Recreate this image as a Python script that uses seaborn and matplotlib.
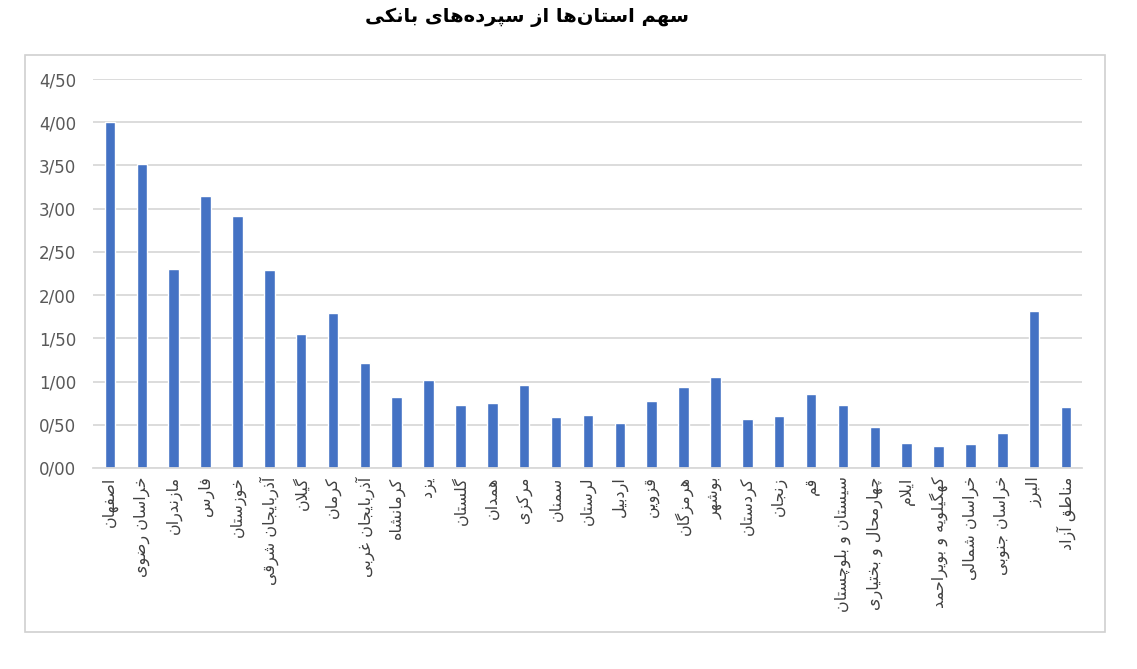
import seaborn as sns
import matplotlib.pyplot as plt
import pandas as pd
from matplotlib.patches import Rectangle


# 1. DATA
title = 'سهم استان‌ها از سپرده‌های بانکی'

provinces = [
    'اصفهان', 'خراسان رضوی', 'مازندران', 'فارس', 'خوزستان', 'آذربایجان شرقی',
    'گیلان', 'کرمان', 'آذربایجان غربی', 'کرمانشاه', 'یزد', 'گلستان', 'همدان',
    'مرکزی', 'سمنان', 'لرستان', 'اردبیل', 'قزوین', 'هرمزگان', 'بوشهر',
    'کردستان', 'زنجان', 'قم', 'سیستان و بلوچستان', 'چهارمحال و بختیاری',
    'ایلام', 'کهگیلویه و بویراحمد', 'خراسان شمالی', 'خراسان جنوبی', 'البرز',
    'مناطق آزاد',
]

share = [
    4.00, 3.52, 2.30, 3.15, 2.91, 2.29,
    1.55, 1.79, 1.22, 0.82, 1.02, 0.73, 0.75,
    0.96, 0.59, 0.61, 0.52, 0.77, 0.94, 1.05,
    0.57, 0.60, 0.86, 0.73, 0.48,
    0.29, 0.25, 0.28, 0.41, 1.82,
    0.71,
]

y_ticks = [0, 0.5, 1, 1.5, 2, 2.5, 3, 3.5, 4, 4.5]
y_tick_labels = ['0/00', '0/50', '1/00', '1/50', '2/00', '2/50', '3/00', '3/50', '4/00', '4/50']


# 2. PERSIAN SHAPING (matplotlib has no arabic shaping, so do it by hand)
# (isolated, final) for right-joining letters, (isolated, final, initial, medial) for dual-joining
FORMS = {
    'ا': ('\uFE8D', '\uFE8E'), 'آ': ('\uFE81', '\uFE82'),
    'ب': ('\uFE8F', '\uFE90', '\uFE91', '\uFE92'),
    'پ': ('\uFB56', '\uFB57', '\uFB58', '\uFB59'),
    'ت': ('\uFE95', '\uFE96', '\uFE97', '\uFE98'),
    'ث': ('\uFE99', '\uFE9A', '\uFE9B', '\uFE9C'),
    'ج': ('\uFE9D', '\uFE9E', '\uFE9F', '\uFEA0'),
    'چ': ('\uFB7A', '\uFB7B', '\uFB7C', '\uFB7D'),
    'ح': ('\uFEA1', '\uFEA2', '\uFEA3', '\uFEA4'),
    'خ': ('\uFEA5', '\uFEA6', '\uFEA7', '\uFEA8'),
    'د': ('\uFEA9', '\uFEAA'), 'ذ': ('\uFEAB', '\uFEAC'),
    'ر': ('\uFEAD', '\uFEAE'), 'ز': ('\uFEAF', '\uFEB0'),
    'ژ': ('\uFB8A', '\uFB8B'),
    'س': ('\uFEB1', '\uFEB2', '\uFEB3', '\uFEB4'),
    'ش': ('\uFEB5', '\uFEB6', '\uFEB7', '\uFEB8'),
    'ص': ('\uFEB9', '\uFEBA', '\uFEBB', '\uFEBC'),
    'ض': ('\uFEBD', '\uFEBE', '\uFEBF', '\uFEC0'),
    'ط': ('\uFEC1', '\uFEC2', '\uFEC3', '\uFEC4'),
    'ظ': ('\uFEC5', '\uFEC6', '\uFEC7', '\uFEC8'),
    'ع': ('\uFEC9', '\uFECA', '\uFECB', '\uFECC'),
    'غ': ('\uFECD', '\uFECE', '\uFECF', '\uFED0'),
    'ف': ('\uFED1', '\uFED2', '\uFED3', '\uFED4'),
    'ق': ('\uFED5', '\uFED6', '\uFED7', '\uFED8'),
    'ک': ('\uFB8E', '\uFB8F', '\uFB90', '\uFB91'),
    'گ': ('\uFB92', '\uFB93', '\uFB94', '\uFB95'),
    'ل': ('\uFEDD', '\uFEDE', '\uFEDF', '\uFEE0'),
    'م': ('\uFEE1', '\uFEE2', '\uFEE3', '\uFEE4'),
    'ن': ('\uFEE5', '\uFEE6', '\uFEE7', '\uFEE8'),
    'ه': ('\uFEE9', '\uFEEA', '\uFEEB', '\uFEEC'),
    'و': ('\uFEED', '\uFEEE'),
    'ی': ('\uFBFC', '\uFBFD', '\uFBFE', '\uFBFF'),
    'لا': ('\uFEFB', '\uFEFC'), 'لآ': ('\uFEF5', '\uFEF6'),
}


def shape(text):
    units = []
    i = 0
    while i < len(text):
        c = text[i]
        if c == 'ل' and i + 1 < len(text) and text[i + 1] in 'اآ':
            units.append(c + text[i + 1])
            i += 2
        else:
            units.append(c)
            i += 1
    out = []
    for k, u in enumerate(units):
        f = FORMS.get(u)
        if f is None:
            if u != '\u200c':
                out.append(u)
            continue
        prev = units[k - 1] if k > 0 else None
        nxt = units[k + 1] if k + 1 < len(units) else None
        jp = prev in FORMS and len(FORMS[prev]) == 4
        jn = len(f) == 4 and nxt in FORMS
        if jp and jn:
            out.append(f[3])
        elif jp:
            out.append(f[1])
        elif jn:
            out.append(f[2])
        else:
            out.append(f[0])
    return ''.join(reversed(out))


df = pd.DataFrame({'province': [shape(p) for p in provinces], 'share': share})


# 3. PLOT
sns.set_style('white')
plt.rcParams['font.family'] = ['DejaVu Sans']

fig = plt.figure(figsize=(11.37, 6.69), dpi=100)
ax = fig.add_axes([93 / 1137, 1 - 468 / 669, (1082 - 93) / 1137, (468 - 79) / 669])

sns.barplot(data=df, x='province', y='share', color='#4472C4', width=0.33,
            saturation=1, ax=ax)

ax.set_ylim(0, 4.5)
ax.set_xlim(-0.53, 30.5)
ax.set_yticks(y_ticks)
ax.set_yticklabels(y_tick_labels)
ax.yaxis.grid(True, color='#d9d9d9', linewidth=1.3)
ax.set_axisbelow(True)
for s in ['top', 'right', 'left']:
    ax.spines[s].set_visible(False)
ax.spines['bottom'].set_color('#d9d9d9')
ax.spines['bottom'].set_linewidth(1.3)
ax.tick_params(axis='y', length=0, pad=12, labelsize=12, labelcolor='#595959')
ax.tick_params(axis='x', length=0, pad=6, labelsize=11.5, labelcolor='#404040')
plt.setp(ax.get_xticklabels(), rotation=90, ha='center', va='top')
ax.set_xlabel('')
ax.set_ylabel('')

# chart border and title
fig.patches.append(Rectangle((25 / 1137, 1 - 632 / 669), (1105 - 25) / 1137, (632 - 55) / 669,
                             transform=fig.transFigure, fill=False,
                             edgecolor='#d0d0d0', linewidth=1.2))
fig.text(527 / 1137, 1 - 17 / 669, shape(title), ha='center', va='center',
         fontsize=14, fontweight='bold', color='black')

fig.savefig('out.png', dpi=100)
